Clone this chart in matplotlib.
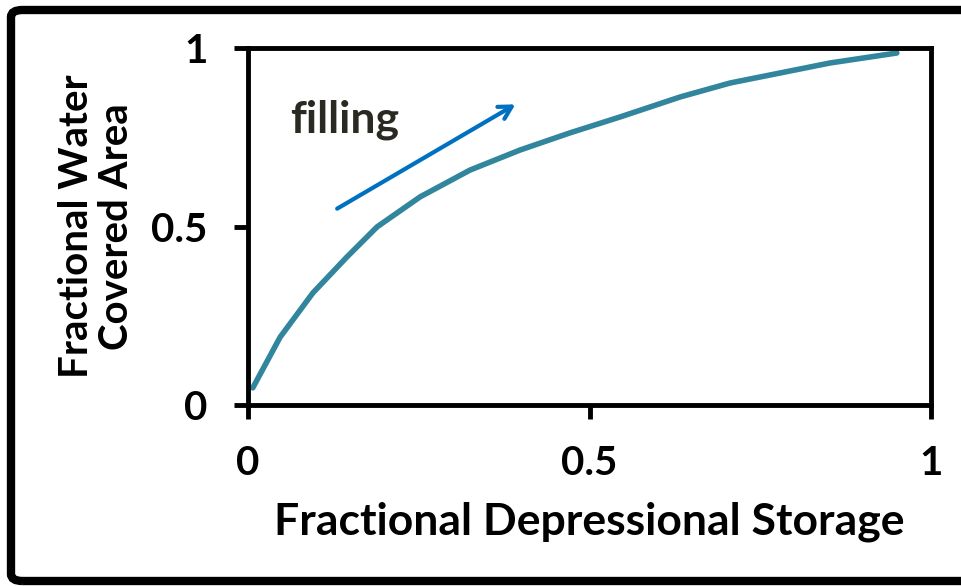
import matplotlib
matplotlib.use('Agg')
import matplotlib.pyplot as plt
from matplotlib.patches import FancyBboxPatch

plt.rc('font', family='Lato', weight='bold')

# curve
storage = [0.007, 0.047, 0.095, 0.145, 0.189, 0.252, 0.325, 0.398, 0.471,
           0.545, 0.633, 0.706, 0.779, 0.852, 0.95]
area = [0.048, 0.19, 0.314, 0.415, 0.499, 0.583, 0.658, 0.714, 0.762,
        0.807, 0.863, 0.902, 0.930, 0.958, 0.986]

ticks = [0, 0.5, 1]
ticklabels = ['0', '0.5', '1']

arrow_start = (0.127, 0.546)
arrow_end = (0.395, 0.846)

fig = plt.figure(figsize=(9.61, 5.86), dpi=100)
ax = fig.add_axes([248/961, 1-405/586, (931-248)/961, (405-48)/586])

ax.plot(storage, area, color='#31859C', lw=4, solid_capstyle='round',
        solid_joinstyle='round')

ax.annotate('', xy=arrow_end, xytext=arrow_start,
            arrowprops=dict(arrowstyle='->,head_length=0.9,head_width=0.5',
                            color='#0070C0', lw=3))
ax.text(0.142, 0.80, 'filling', fontsize=32, color='#2b2a22',
        ha='center', va='center', fontweight='bold')

ax.set_xlim(0, 1)
ax.set_ylim(0, 1)
ax.set_xticks(ticks)
ax.set_xticklabels(ticklabels, fontweight='bold')
ax.set_yticks(ticks)
ax.set_yticklabels(ticklabels, fontweight='bold')
ax.tick_params(direction='out', length=10, width=3.5, labelsize=29, pad=19)
for s in ax.spines.values():
    s.set_linewidth(3.5)

ax.set_xlabel('Fractional Depressional Storage', fontsize=32,
              fontweight='bold', labelpad=14)
ax.set_ylabel('Fractional Water\nCovered Area', fontsize=29,
              fontweight='bold', labelpad=12, linespacing=1.1)

border = FancyBboxPatch((11/961, 5/586), 1.05, (581-10)/586,
                        boxstyle='round,pad=0,rounding_size=0.012',
                        transform=fig.transFigure, fill=False,
                        ec='black', lw=6, clip_on=False)
fig.patches.append(border)

fig.savefig('out.png', dpi=100)
